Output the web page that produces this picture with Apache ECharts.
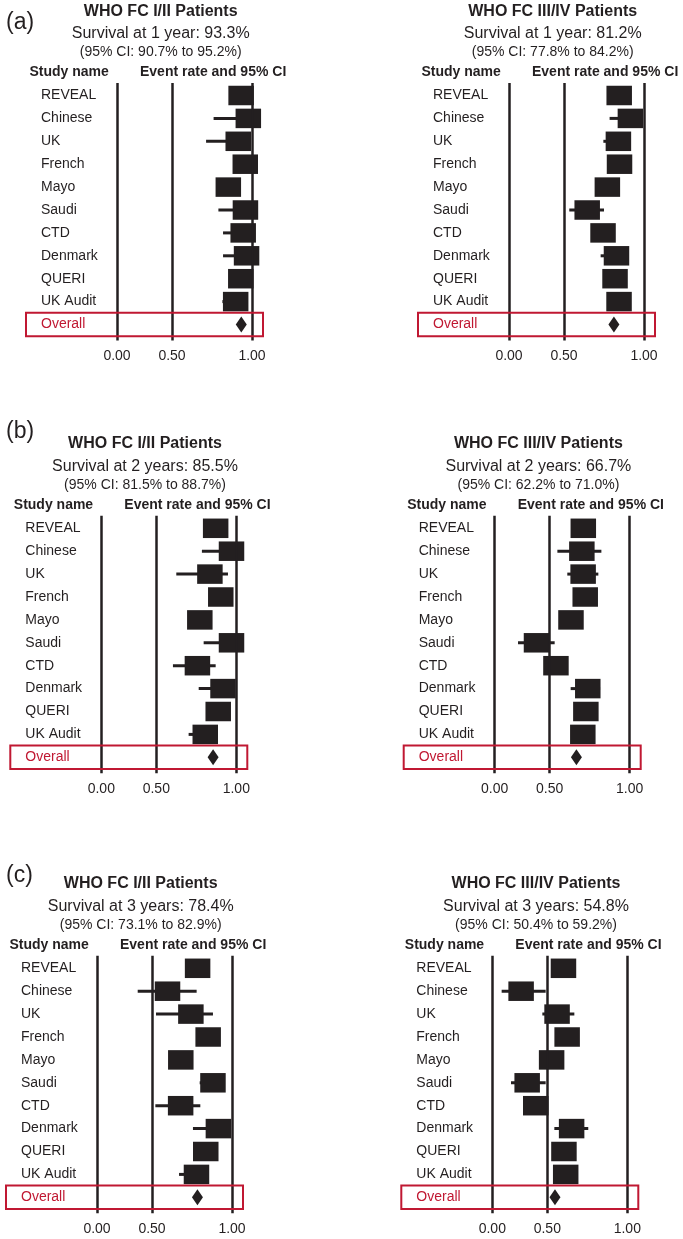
<!DOCTYPE html>
<html>
<head>
<meta charset="utf-8">
<title>Survival by WHO functional class</title>
<script src="https://cdn.jsdelivr.net/npm/echarts@6/dist/echarts.min.js"></script>
<style>
  html, body { margin: 0; padding: 0; background: #fff; }
  #main { width: 683px; height: 1239px; }
</style>
</head>
<body>
<div id="main"></div>
<script>
// rows of every forest plot, top to bottom
const studies = ['REVEAL', 'Chinese', 'UK', 'French', 'Mayo', 'Saudi', 'CTD', 'Denmark', 'QUERI', 'UK Audit'];
const overallName = 'Overall';
const tickValues = [0, 0.5, 1];
const tickLabels = ['0.00', '0.50', '1.00'];
const groupTitles = ['WHO FC I/II Patients', 'WHO FC III/IV Patients'];
const panelLetters = ['(a)', '(b)', '(c)'];
const horizons = ['1 year', '2 years', '3 years'];

// event rate (survival) and 95% CI per study
const fc12Y1Rate = [0.932, 0.977, 0.914, 0.958, 0.852, 0.959, 0.945, 0.966, 0.930, 0.898];
const fc12Y1Low  = [0.905, 0.760, 0.713, 0.925, 0.805, 0.790, 0.819, 0.819, 0.900, 0.815];
const fc12Y1High = [0.955, 0.995, 0.975, 0.978, 0.890, 0.990, 0.980, 0.990, 0.952, 0.945];

const fc34Y1Rate = [0.845, 0.915, 0.840, 0.847, 0.771, 0.645, 0.744, 0.828, 0.819, 0.844];
const fc34Y1Low  = [0.815, 0.785, 0.746, 0.810, 0.720, 0.533, 0.690, 0.729, 0.780, 0.805];
const fc34Y1High = [0.870, 0.970, 0.900, 0.878, 0.815, 0.750, 0.790, 0.890, 0.855, 0.876];

const fc12Y2Rate = [0.871, 0.970, 0.835, 0.903, 0.772, 0.970, 0.757, 0.917, 0.887, 0.806];
const fc12Y2Low  = [0.830, 0.785, 0.625, 0.860, 0.720, 0.796, 0.604, 0.765, 0.850, 0.702];
const fc12Y2High = [0.905, 0.995, 0.948, 0.935, 0.815, 0.995, 0.871, 0.975, 0.920, 0.870];

const fc34Y2Rate = [0.710, 0.701, 0.709, 0.722, 0.633, 0.380, 0.539, 0.738, 0.726, 0.707];
const fc34Y2Low  = [0.660, 0.548, 0.610, 0.680, 0.575, 0.212, 0.480, 0.631, 0.675, 0.660];
const fc34Y2High = [0.755, 0.823, 0.804, 0.762, 0.690, 0.531, 0.600, 0.815, 0.770, 0.750];

const fc12Y3Rate = [0.785, 0.597, 0.743, 0.851, 0.680, 0.881, 0.679, 0.915, 0.836, 0.778];
const fc12Y3Low  = [0.730, 0.370, 0.525, 0.800, 0.620, 0.798, 0.521, 0.756, 0.790, 0.669];
const fc12Y3High = [0.835, 0.779, 0.881, 0.895, 0.735, 0.950, 0.802, 0.970, 0.875, 0.840];

const fc34Y3Rate = [0.601, 0.262, 0.561, 0.624, 0.527, 0.317, 0.395, 0.652, 0.604, 0.615];
const fc34Y3Low  = [0.550, 0.085, 0.455, 0.575, 0.470, 0.170, 0.330, 0.544, 0.555, 0.565];
const fc34Y3High = [0.650, 0.485, 0.669, 0.670, 0.585, 0.485, 0.460, 0.756, 0.650, 0.660];

// pooled estimates per horizon (1, 2, 3 years)
const overall12Rate = [0.933, 0.855, 0.784];
const overall12Low  = [0.907, 0.815, 0.731];
const overall12High = [0.952, 0.887, 0.829];
const overall34Rate = [0.812, 0.667, 0.548];
const overall34Low  = [0.778, 0.622, 0.504];
const overall34High = [0.842, 0.710, 0.592];

const INK = '#231f20';
const RED = '#c01832';
const FONT = 'Liberation Sans, Arial, sans-serif';
const ROW = 22.9;
const BOX_W = 25.5, BOX_H = 19.5;

// the original axis is drawn tighter below 0.50 than above it
function axisPos(v) {
  return v <= 0.5 ? v * 1.1 : 0.55 + (v - 0.5) * 1.6;
}

// [left edge, y of first study row]
const layout = [
  [25, 95.5], [417, 95.5],
  [9.3, 528.3], [402.7, 528.3],
  [5, 968.3], [400.3, 968.3]
];

const panels = [
  { h: 0, g: 0, rate: fc12Y1Rate, low: fc12Y1Low, high: fc12Y1High, all: [overall12Rate[0], overall12Low[0], overall12High[0]] },
  { h: 0, g: 1, rate: fc34Y1Rate, low: fc34Y1Low, high: fc34Y1High, all: [overall34Rate[0], overall34Low[0], overall34High[0]] },
  { h: 1, g: 0, rate: fc12Y2Rate, low: fc12Y2Low, high: fc12Y2High, all: [overall12Rate[1], overall12Low[1], overall12High[1]] },
  { h: 1, g: 1, rate: fc34Y2Rate, low: fc34Y2Low, high: fc34Y2High, all: [overall34Rate[1], overall34Low[1], overall34High[1]] },
  { h: 2, g: 0, rate: fc12Y3Rate, low: fc12Y3Low, high: fc12Y3High, all: [overall12Rate[2], overall12Low[2], overall12High[2]] },
  { h: 2, g: 1, rate: fc34Y3Rate, low: fc34Y3Low, high: fc34Y3High, all: [overall34Rate[2], overall34Low[2], overall34High[2]] }
];

const pct = v => (v * 100).toFixed(1) + '%';

const grid = [], xAxis = [], yAxis = [], series = [], graphic = [];

panels.forEach((p, i) => {
  const [left, y0] = layout[i];
  grid.push({ left: left, top: y0 - 0.55 * ROW, width: 239, height: 11.25 * ROW });

  xAxis.push({
    type: 'value', gridIndex: i, min: -0.92, max: 1.47,
    axisLine: { show: false }, axisTick: { show: false }, splitLine: { show: false },
    axisLabel: {
      customValues: tickValues.map(axisPos),
      margin: 9, fontSize: 14, fontFamily: FONT, color: INK,
      formatter: val => {
        const k = tickValues.findIndex(t => Math.abs(axisPos(t) - val) < 1e-9);
        return k < 0 ? '' : tickLabels[k];
      }
    }
  });

  yAxis.push({
    type: 'value', gridIndex: i, inverse: true, min: -0.55, max: 10.7,
    axisLine: { show: false }, axisTick: { show: false }, splitLine: { show: false },
    axisLabel: {
      inside: true, margin: 16, align: 'left',
      customValues: studies.map((s, k) => k).concat([studies.length]),
      fontSize: 14, fontFamily: FONT, color: INK,
      formatter: val => val === studies.length ? '{red|' + overallName + '}' : studies[val],
      rich: { red: { color: RED, fontSize: 14, fontFamily: FONT } }
    }
  });

  // vertical reference lines at 0, 0.5, 1 plus pooled diamond
  series.push({
    type: 'scatter', xAxisIndex: i, yAxisIndex: i, z: 4,
    symbol: 'diamond', symbolSize: [11, 16],
    itemStyle: { color: INK, opacity: 1 },
    data: [[axisPos(p.all[0]), studies.length]],
    silent: true,
    markLine: {
      silent: true, symbol: ['none', 'none'], label: { show: false },
      lineStyle: { color: INK, width: 2.5, type: 'solid', opacity: 1 },
      data: tickValues.map(v => ({ xAxis: axisPos(v) }))
    }
  });

  // study boxes and CI whiskers
  series.push({
    type: 'custom', xAxisIndex: i, yAxisIndex: i, z: 3, silent: true,
    encode: { x: [0, 2, 3], y: 1 },
    data: studies.map((s, k) => [axisPos(p.rate[k]), k, axisPos(p.low[k]), axisPos(p.high[k])]),
    renderItem: (params, api) => {
      const row = api.value(1);
      const c = api.coord([api.value(0), row]);
      const a = api.coord([api.value(2), row]);
      const b = api.coord([api.value(3), row]);
      return {
        type: 'group',
        children: [
          { type: 'line', shape: { x1: a[0], y1: a[1], x2: b[0], y2: b[1] }, style: { stroke: INK, lineWidth: 3 } },
          { type: 'rect', shape: { x: c[0] - BOX_W / 2, y: c[1] - BOX_H / 2, width: BOX_W, height: BOX_H }, style: { fill: INK } }
        ]
      };
    }
  });

  // red frame around the overall row
  series.push({
    type: 'custom', xAxisIndex: i, yAxisIndex: i, z: 5, silent: true,
    encode: { x: 0, y: 1 },
    data: [[0, studies.length]],
    renderItem: (params, api) => {
      const cs = params.coordSys;
      const top = api.coord([0, studies.length - 0.51])[1];
      const bottom = api.coord([0, studies.length + 0.51])[1];
      return {
        type: 'rect',
        shape: { x: cs.x + 1, y: top, width: cs.width - 2, height: bottom - top },
        style: { fill: null, stroke: RED, lineWidth: 2 }
      };
    }
  });

  const cx = left + 135.7;
  const txt = (text, x, y, font, align) => ({
    type: 'text', x: x, y: y, silent: true,
    style: { text: text, font: font, fill: INK, align: align || 'center', verticalAlign: 'middle' }
  });
  graphic.push(txt(groupTitles[p.g], cx, y0 - 84.3, 'bold 16px ' + FONT));
  graphic.push(txt('Survival at ' + horizons[p.h] + ': ' + pct(p.all[0]), cx, y0 - 61.5, '16px ' + FONT));
  graphic.push(txt('(95% CI: ' + pct(p.all[1]) + ' to ' + pct(p.all[2]) + ')', cx, y0 - 43.6, '14px ' + FONT));
  graphic.push(txt('Study name', left + 4.5, y0 - 23.3, 'bold 14px ' + FONT, 'left'));
  graphic.push(txt('Event rate and 95% CI', left + 115, y0 - 23.3, 'bold 14px ' + FONT, 'left'));
});

// panel letters
[23, 432, 876].forEach((y, k) => {
  graphic.push({
    type: 'text', x: 6, y: y, silent: true,
    style: { text: panelLetters[k], font: '23px ' + FONT, fill: INK, align: 'left', verticalAlign: 'middle' }
  });
});

const chart = echarts.init(document.getElementById('main'));
chart.setOption({
  backgroundColor: '#fff',
  animation: false,
  textStyle: { fontFamily: FONT },
  grid: grid,
  xAxis: xAxis,
  yAxis: yAxis,
  series: series,
  graphic: graphic
});
</script>
</body>
</html>
